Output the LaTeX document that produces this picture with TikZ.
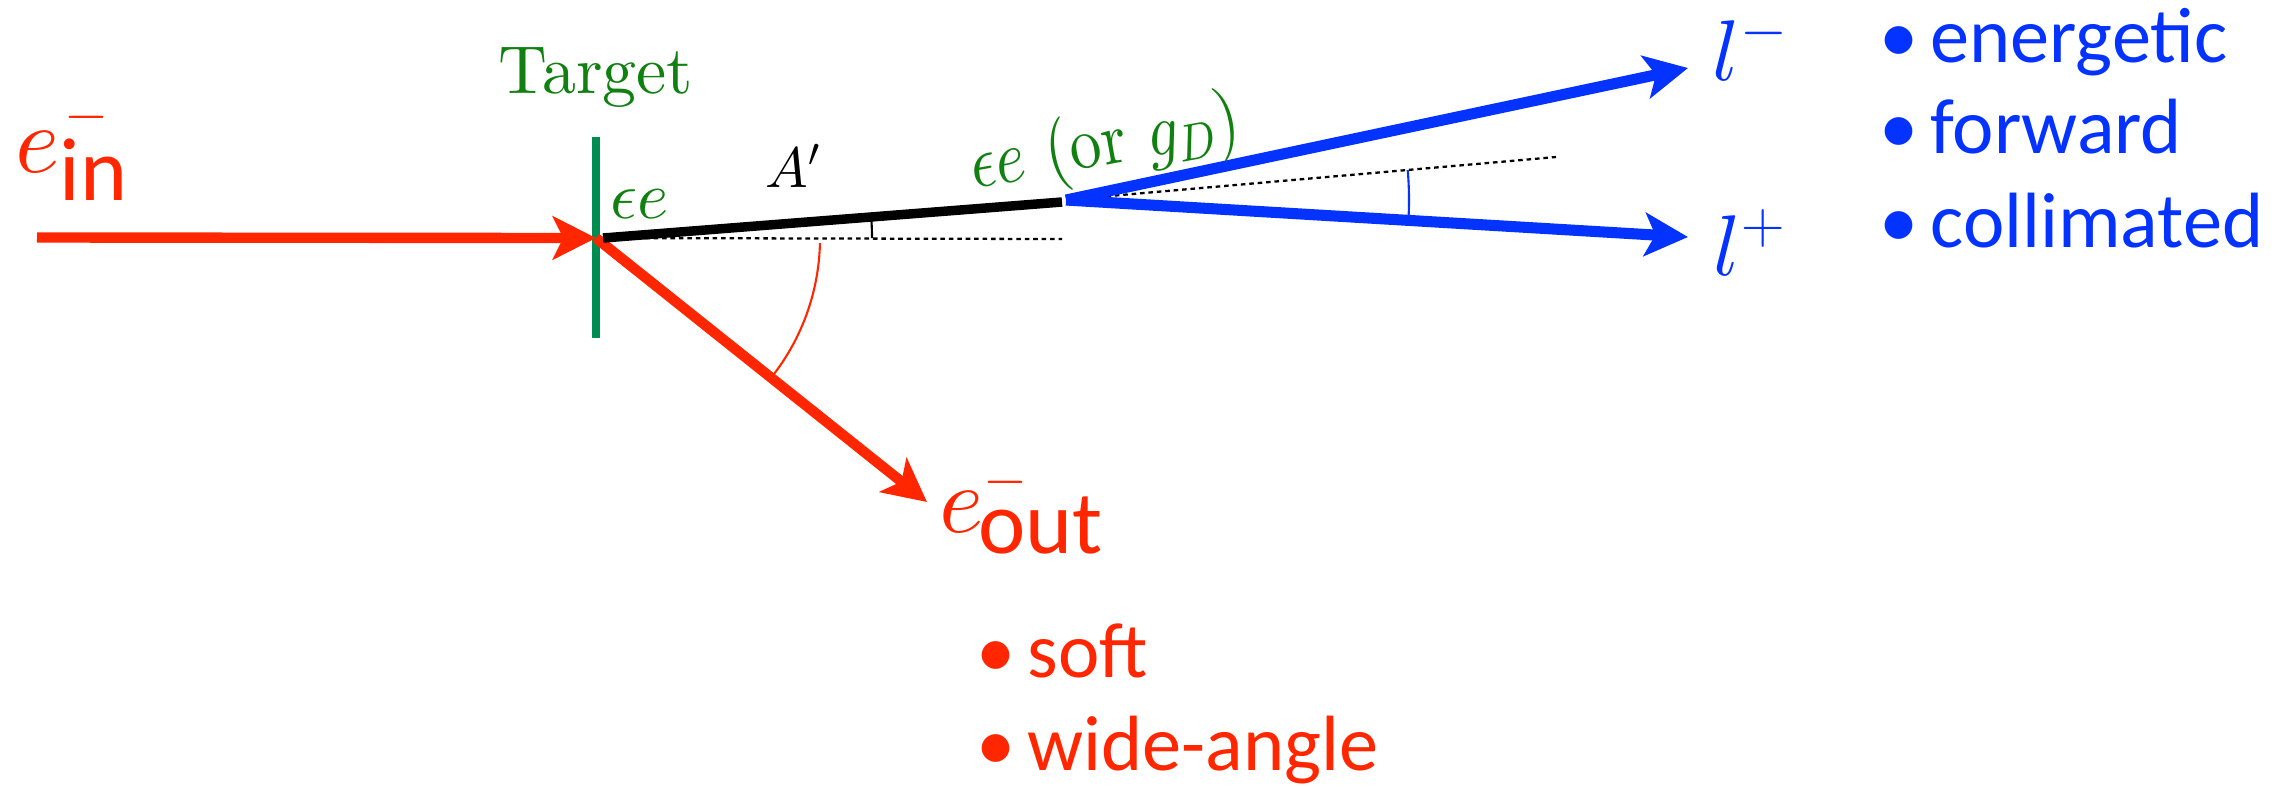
\RequirePackage{fix-cm}
\documentclass[tikz,border=0pt]{standalone}
\usepackage{fontspec}
\newfontfamily\gill{Carlito}
\newfontfamily\lmten{lmroman10-regular}[Extension=.otf]
\DeclareFontShape{OML}{cmm}{m}{it}{<->cmmi10}{}
\DeclareFontShape{OMS}{cmsy}{m}{n}{<->cmsy10}{}
\usetikzlibrary{arrows.meta}
\definecolor{kred}{RGB}{255,38,0}
\definecolor{kblue}{RGB}{4,51,255}
\definecolor{kgreen}{RGB}{0,140,80}
\definecolor{tgreen}{RGB}{16,128,16}
\newcommand\bul{\makebox[18pt][c]{•}}
\newcommand\smminus[1]{\raisebox{#1}{\fontsize{23}{23}\selectfont$\scriptstyle -$}}
\tikzset{
  thickred/.style={draw=kred, line width=2.95pt, -{Stealth[length=12.3pt,width=12.3pt,inset=3pt]}},
  thickblue/.style={draw=kblue, line width=3.15pt, -{Stealth[length=12.3pt,width=12.3pt,inset=3pt]}},
  dotline/.style={draw=black, line width=0.65pt, dash pattern=on 1.3pt off 1.1pt},
  thinarc/.style={line width=0.6pt},
  lbl/.style={inner sep=0pt, anchor=base west},
  bullred/.style={lbl, text=kred, font=\gill\fontsize{22.3}{26}\selectfont},
  bullblue/.style={lbl, text=kblue, font=\gill\fontsize{22.3}{26}\selectfont},
}
\begin{document}
\begin{tikzpicture}[x=0.1mm, y=0.1mm]
\useasboundingbox (0,0) rectangle (2288,-786);
% key points
\coordinate (start) at (37,-237.5);
\coordinate (V) at (596,-238);
\coordinate (Vb) at (603,-238);
\coordinate (Aend) at (1062,-202);
\coordinate (D) at (1066,-200);
\coordinate (lm) at (1688,-68);
\coordinate (lp) at (1688,-237);
\coordinate (eo) at (927,-502);
\coordinate (tt) at (596,-137);
\coordinate (tb) at (596,-338);
\coordinate (h1) at (1062,-239);
\coordinate (d1) at (1098,-197);
\coordinate (d2) at (1556,-157);
% dotted reference lines
\draw[dotline] (Vb) -- (h1);
\draw[dotline] (d1) -- (d2);
% target
\draw[kgreen, line width=2.2pt] (tt) -- (tb);
% beams
\draw[thickred] (start) -- (V);
\draw[thickred] (V) -- (eo);
\draw[black, line width=2.7pt] (Vb) -- (Aend);
\draw[thickblue] (D) -- (lm);
\draw[thickblue] (D) -- (lp);
% angle arcs
\draw[thinarc, kred] (V) ++(-1.3:224) arc[start angle=-1.3, end angle=-38, radius=224];
\draw[thinarc, black] (V) ++(0:276) arc[start angle=0, end angle=3.8, radius=276];
\draw[thinarc, kblue] (D) ++(5:343) arc[start angle=5, end angle=-3.4, radius=343];
% labels
\node[inner sep=0pt, anchor=base, text=tgreen, font=\lmten\fontsize{19.3}{21}\selectfont] (target) at (596,-93) {Target};
\node[lbl, text=tgreen, font=\fontsize{19}{21}\selectfont] (ee1) at (610,-218) {$\epsilon e$};
\node[lbl, font=\fontsize{16.2}{18}\selectfont] (Ap) at (765,-187) {$A'$};
\begin{scope}[shift={(974,-189)}, rotate=10.3, yscale=1.18]
\node[lbl, text=tgreen, font=\lmten\fontsize{18}{20}\selectfont, transform shape] (ee2) at (0,0) {$\epsilon e$ (or $g_D$)};
\end{scope}
\node[lbl, text=kblue, font=\fontsize{24.5}{26}\selectfont] (lminus) at (1712,-80) {$l^-$};
\node[lbl, text=kblue, font=\fontsize{24.5}{26}\selectfont] (lplus) at (1713,-275) {$l^+$};
\node[lbl, text=kred, font=\fontsize{27}{27}\selectfont] (ein) at (15,-172)
  {$e$\rlap{\kern1.4pt\smminus{11.4pt}}\raisebox{-8pt}{\gill\fontsize{25.5}{25}\selectfont in}};
\node[lbl, text=kred, font=\fontsize{27}{27}\selectfont] (eout) at (939,-532)
  {$e$\kern-1.5pt\rlap{\kern1.5pt\smminus{10pt}}\raisebox{-6pt}{\gill\fontsize{25.5}{25}\selectfont out}};
% bullet lists
\node[bullblue] (b1) at (1866.5,-62) {\bul energetic};
\node[bullblue] (b2) at (1866.5,-153) {\bul forward};
\node[bullblue] (b3) at (1866.5,-247) {\bul collimated};
\node[bullred] (r1) at (963.5,-677) {\bul soft};
\node[bullred] (r2) at (963.5,-770) {\bul wide-angle};
\end{tikzpicture}
\end{document}
